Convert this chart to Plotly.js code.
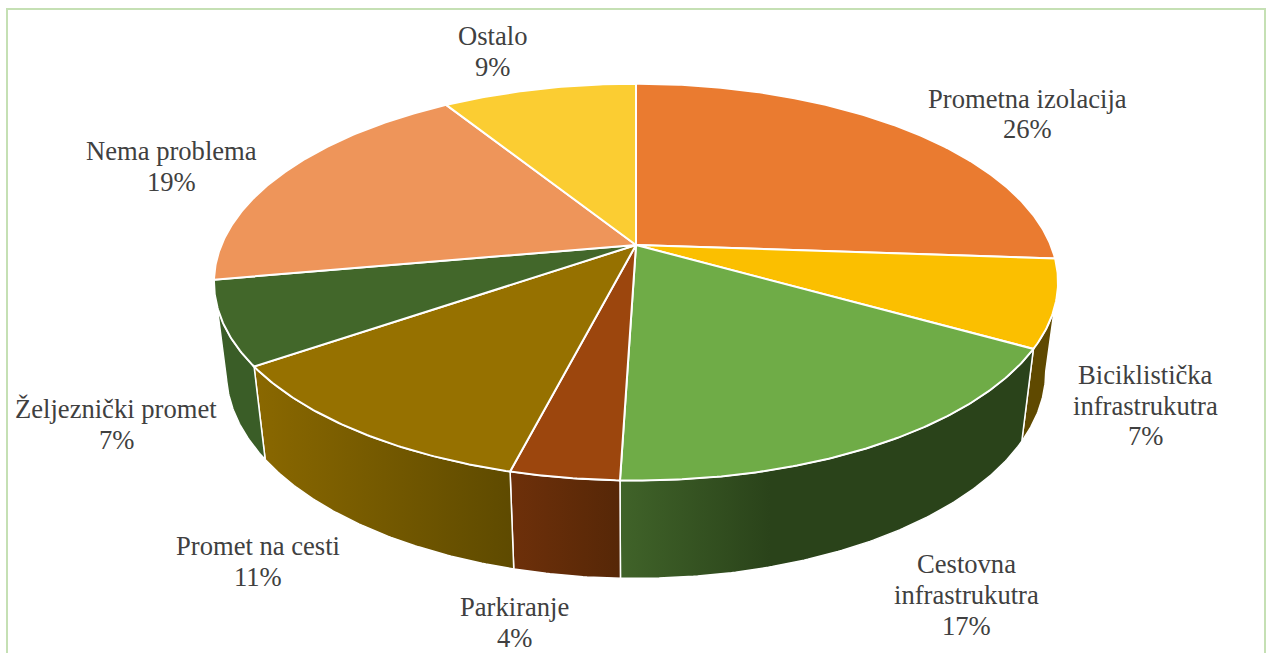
<!DOCTYPE html>
<html><head><meta charset="utf-8">
<script src="https://cdn.plot.ly/plotly-3.0.1.min.js"></script>
<style>html,body{margin:0;padding:0;background:#fff;overflow:hidden}#c{width:1266px;height:653px}</style>
</head><body><div id="c"></div>
<script>
var categories = ["Prometna izolacija","Biciklistička<br>infrastrukutra","Cestovna<br>infrastrukutra","Parkiranje","Promet na cesti","Željeznički promet","Nema problema","Ostalo"];
var percentLabels = ["26%","7%","17%","4%","11%","7%","19%","9%"];
var sliceShares = [26.1,7.1,17.3,3.5,11.4,6.8,18.9,8.9];
var topColors = ["#EA7B30","#FBBF00","#6FAC47","#9C460D","#967100","#42672A","#EE955A","#FBCD32"];
var wallLeftColors = ["#8A4A1C","#5F4900","#406329","#6E300A","#8A6800","#3A5D27","#8A4A1C","#8A6A00"];
var wallRightColors = ["#8A4A1C","#5F4900","#2A431A","#562707","#5E4A00","#3A5D27","#8A4A1C","#8A6A00"];

// perspective disc geometry (pixels)
var cx=636, topY=245, botY=333, topA=414.6, botA=402.5, topB=191.5, botB=199.5, persp=0.187;
function pt(deg,A,B,Y0){var t=deg*Math.PI/180,d=1+persp*Math.cos(t);
  return [cx+A*Math.sin(t)/d, Y0-B*Math.cos(t)/d];}
function arc(a0,a1,A,B,Y0){var n=Math.max(2,Math.ceil(Math.abs(a1-a0)/0.5)),r=[];
  for(var i=0;i<=n;i++)r.push(pt(a0+(a1-a0)*i/n,A,B,Y0));return r;}

var tanDeg=Math.acos(-persp)*180/Math.PI, walls=[], tops=[], acc=0;
sliceShares.forEach(function(s,i){
  var a0=acc*3.6,a1=(acc+s)*3.6;acc+=s;
  var w0=Math.max(a0,tanDeg),w1=Math.min(a1,360-tanDeg);
  if(w1>w0){
    var p=arc(w0,w1,topA,topB,topY).concat(arc(w1,w0,botA,botB,botY));
    p.push(p[0]);
    var xs=p.map(function(q){return q[0]});
    walls.push({x:xs,y:p.map(function(q){return q[1]}),mode:'lines',fill:'toself',
      line:{color:'#ffffff',width:1.5},
      fillgradient:{type:'horizontal',start:Math.min.apply(null,xs),
        stop:i==2?Math.min.apply(null,xs)+150:Math.max.apply(null,xs),
        colorscale:[[0,wallLeftColors[i]],[1,wallRightColors[i]]]},
      hoverinfo:'skip',showlegend:false});
  }
  var q=[[cx,topY]].concat(arc(a0,a1,topA,topB,topY));q.push([cx,topY]);
  tops.push({x:q.map(function(v){return v[0]}),y:q.map(function(v){return v[1]}),mode:'lines',fill:'toself',
    fillcolor:topColors[i],line:{color:'#ffffff',width:2},hoverinfo:'skip',showlegend:false});
});

// label block centres and line step (pixels)
var labelX=[1027.5,1145,966,514,258,116,171.5,492];
var labelY=[114,405.5,595,622.5,561.5,424.5,166.5,51.5];
var lineStep=30.7;
var annotations=[];
categories.forEach(function(c,i){
  var lines=c.split('<br>').concat([percentLabels[i]]);
  lines.forEach(function(t,j){
    annotations.push({x:labelX[i],y:labelY[i]+(j-(lines.length-1)/2)*lineStep,xref:'x',yref:'y',text:t,showarrow:false,
      xanchor:'center',yanchor:'middle',align:'center',
      font:{family:'"Liberation Serif","Times New Roman",serif',size:26.6,color:'#404040'}});
  });
});

Plotly.newPlot('c',walls.concat(tops),{
  width:1266,height:653,margin:{l:0,r:0,t:0,b:0},paper_bgcolor:'#fff',plot_bgcolor:'#fff',showlegend:false,
  xaxis:{range:[0,1266],visible:false,fixedrange:true},
  yaxis:{range:[653,0],visible:false,fixedrange:true},
  annotations:annotations,
  shapes:[{type:'rect',xref:'x',yref:'y',x0:7,y0:9,x1:1265,y1:670,line:{color:'#C5E0B4',width:2},layer:'below'}]
},{displayModeBar:false,staticPlot:true});
</script></body></html>
